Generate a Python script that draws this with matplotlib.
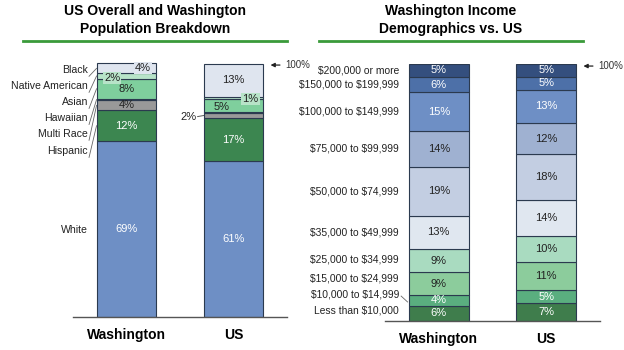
import numpy as np
import matplotlib.pyplot as plt
from matplotlib.lines import Line2D

plt.rcParams['font.family'] = ['Liberation Sans', 'DejaVu Sans']

# population breakdown (bottom to top)
races = ['White', 'Hispanic', 'Multi Race', 'Hawaiian', 'Asian', 'Native American', 'Black']
race_wa = [69, 12, 4, 0.5, 8, 2, 4]
race_us = [61, 17, 2, 0.3, 5, 1, 13]
race_colors = ['#6e8fc5', '#3c8650', '#999999', '#4f8f62', '#7fcf9d', '#b7e3c8', '#dfe5ef']
race_text = ['white', 'white', '#222222', '#222222', '#222222', '#222222', '#222222']

# income breakdown (bottom to top)
incomes = ['Less than $10,000', '$10,000 to $14,999', '$15,000 to $24,999',
           '$25,000 to $34,999', '$35,000 to $49,999', '$50,000 to $74,999',
           '$75,000 to $99,999', '$100,000 to $149,999', '$150,000 to $199,999',
           '$200,000 or more']
inc_wa = [6, 4, 9, 9, 13, 19, 14, 15, 6, 5]
inc_us = [7, 5, 11, 10, 14, 18, 12, 13, 5, 5]
inc_colors = ['#3f7d4c', '#5aae7f', '#8ccc9c', '#a9dbc0', '#e0e7f0',
              '#c3cee2', '#9fb1d1', '#6e8fc5', '#4d70a8', '#344f7e']
inc_text = ['white', 'white', '#222222', '#222222', '#222222',
            '#222222', '#222222', 'white', 'white', 'white']

groups = ['Washington', 'US']
W, H = 624, 350
edge = '#2b3a4f'
bw = 0.56

fig = plt.figure(figsize=(W / 100, H / 100), dpi=100)


def px_axes(x0, y_bottom, x1, y_top):
    return fig.add_axes([x0 / W, 1 - y_bottom / H, (x1 - x0) / W, (y_bottom - y_top) / H])


def style(ax):
    ax.set_xlim(-0.5, 1.5)
    ax.set_ylim(0, 100)
    for s in ['top', 'left', 'right']:
        ax.spines[s].set_visible(False)
    ax.spines['bottom'].set_color('#555555')
    ax.spines['bottom'].set_linewidth(1.0)
    ax.set_yticks([])
    ax.set_xticks([0, 1])
    ax.set_xticklabels(groups, fontsize=10, fontweight='bold')
    ax.tick_params(axis='x', length=0, pad=8)


def stack(ax, x, vals, colors):
    bottoms = np.concatenate([[0], np.cumsum(vals)[:-1]])
    for v, b, c in zip(vals, bottoms, colors):
        ax.bar(x, v, bottom=b, width=bw, color=c, edgecolor=edge, linewidth=0.8)
    return bottoms


def arrow100(ax, y):
    ax.annotate('', xy=(1.32, y), xytext=(1.46, y),
                arrowprops=dict(arrowstyle='-|>', color='#222222', lw=0.9, mutation_scale=6))
    ax.text(1.48, y, '100%', fontsize=7, va='center', ha='left', color='#333333')


# ---------------- left chart ----------------
axl = px_axes(73, 317, 287, 62)
style(axl)
b_wa = stack(axl, 0, race_wa, race_colors)
b_us = stack(axl, 1, race_us, race_colors)

# centred percentages
for x, vals, bots in [(0, race_wa, b_wa), (1, race_us, b_us)]:
    for i, (v, b) in enumerate(zip(vals, bots)):
        if races[i] in ('White', 'Hispanic') or (races[i] == 'Asian' and x == 0) \
                or (races[i] == 'Multi Race' and x == 0) or (races[i] == 'Black' and x == 1):
            axl.text(x, b + v / 2, f'{v:g}%', ha='center', va='center',
                     fontsize=8, color=race_text[i])

# small segments with offset labels
axl.text(0.155, 97.6, f'{race_wa[6]:g}%', ha='center', va='center', fontsize=8,
         color='#222222', bbox=dict(boxstyle='square,pad=0.1', fc=race_colors[6], ec='none'))
axl.text(-0.135, 93.8, f'{race_wa[5]:g}%', ha='center', va='center', fontsize=8,
         color='#222222', bbox=dict(boxstyle='square,pad=0.1', fc=race_colors[5], ec='none'))
axl.text(1.16, 85.5, f'{race_us[5]:g}%', ha='center', va='center', fontsize=8,
         color='#222222', bbox=dict(boxstyle='square,pad=0.1', fc=race_colors[5], ec='none'))
axl.text(0.89, 82.4, f'{race_us[4]:g}%', ha='center', va='center', fontsize=8, color='#222222')
axl.text(0.655, 78.4, f'{race_us[2]:g}%', ha='right', va='center', fontsize=8, color='#222222')
axl.plot([0.665, 0.72], [78.6, 79.0], color='#555555', lw=0.7, clip_on=False)

# category labels with leader lines
race_label_y = [34.1, 65.1, 71.8, 78.0, 84.3, 90.6, 96.9]
for i, name in enumerate(races):
    yl = race_label_y[i]
    axl.text(-0.36, yl, name, ha='right', va='center', fontsize=7.6, color='#222222')
    if name != 'White':
        seg_c = b_wa[i] + race_wa[i] / 2
        axl.plot([-0.35, -0.28], [yl - 2.5, seg_c], color='#666666', lw=0.6, clip_on=False)

arrow100(axl, 98.8)

# ---------------- right chart ----------------
axr = px_axes(385, 321, 600, 64)
style(axr)
ib_wa = stack(axr, 0, inc_wa, inc_colors)
ib_us = stack(axr, 1, inc_us, inc_colors)

for x, vals, bots in [(0, inc_wa, ib_wa), (1, inc_us, ib_us)]:
    for i, (v, b) in enumerate(zip(vals, bots)):
        axr.text(x, b + v / 2, f'{v}%', ha='center', va='center',
                 fontsize=8, color=inc_text[i])

label_nudge = [0.9, 2.5, 2.2, 0.6, 0, 0, 0, 0, 0, 0]
for i, name in enumerate(incomes):
    yl = ib_wa[i] + inc_wa[i] / 2 + label_nudge[i]
    axr.text(-0.37, yl, name, ha='right', va='center', fontsize=7.4,
             color='#222222', parse_math=False)
axr.plot([-0.35, -0.29], [9.7, 7.4], color='#666666', lw=0.6, clip_on=False)

arrow100(axr, 99.2)

# ---------------- titles ----------------
fig.text(155 / W, 1 - 20 / H, 'US Overall and Washington\nPopulation Breakdown',
         ha='center', va='center', fontsize=10, fontweight='bold', linespacing=1.3)
fig.text(451 / W, 1 - 20 / H, 'Washington Income\nDemographics vs. US',
         ha='center', va='center', fontsize=10, fontweight='bold', linespacing=1.3)
for x0, x1 in [(23, 287), (319, 583)]:
    fig.add_artist(Line2D([x0 / W, x1 / W], [1 - 41 / H, 1 - 41 / H],
                          color='#3a9a3a', lw=2))

fig.savefig('out.png', dpi=100)
